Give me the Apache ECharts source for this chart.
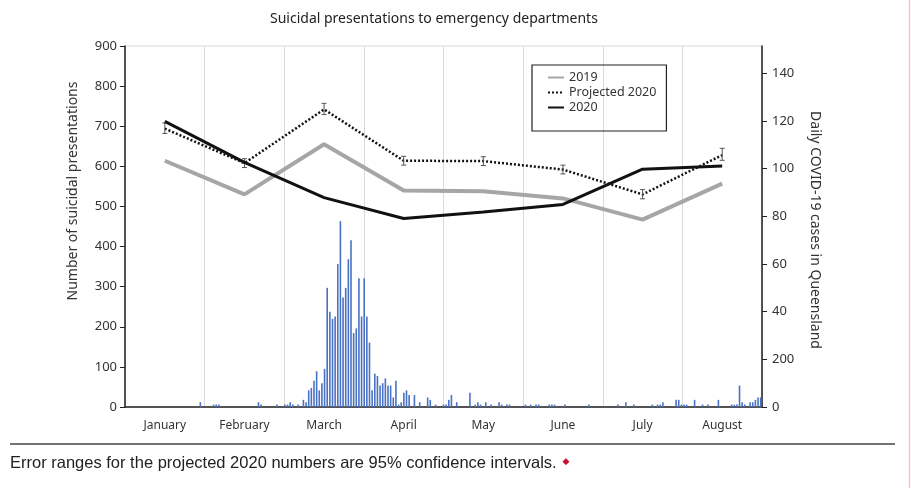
<!DOCTYPE html>
<html>
<head>
<meta charset="utf-8">
<title>Suicidal presentations to emergency departments</title>
<script src="https://cdn.jsdelivr.net/npm/echarts@6/dist/echarts.min.js"></script>
<style>
  html, body { margin: 0; padding: 0; background: #fff; }
  #chart { width: 911px; height: 488px; }
</style>
</head>
<body>
<div id="chart"></div>
<script>
// months on the category axis
var months = ['January', 'February', 'March', 'April', 'May', 'June', 'July', 'August'];

// suicidal presentations (left axis)
var data2019 = [614, 530, 655, 540, 538, 520, 467, 557];
var projected2020 = [694, 608, 742, 614, 613, 592, 530, 628];
var projLow = [682, 597, 729, 603, 602, 581, 519, 615];
var projHigh = [708, 619, 757, 625, 624, 603, 542, 645];
var data2020 = [712, 610, 522, 470, 486, 505, 593, 601];

// daily COVID-19 cases (right axis), day index from 1 Jan, only days with cases
var caseDay = [28, 33, 34, 35, 50, 51, 57, 60, 61, 62,
    63, 65, 67, 68, 69, 70, 71, 72, 73, 74,
    75, 76, 77, 78, 79, 80, 81, 82, 83, 84,
    85, 86, 87, 88, 89, 90, 91, 92, 93, 94,
    95, 96, 97, 98, 99, 100, 101, 102, 103, 104,
    105, 106, 107, 109, 111, 114, 115, 117, 120, 121,
    122, 123, 125, 130, 132, 133, 134, 136, 138, 141,
    142, 144, 145, 151, 153, 155, 156, 160, 161, 162,
    166, 175, 186, 189, 192, 199, 201, 202, 203, 208,
    209, 210, 211, 212, 215, 218, 220, 224, 229, 230,
    231, 232, 233, 234, 236, 237, 238, 239, 240];
var caseCount = [2, 1, 1, 1, 2, 1, 1, 1, 1, 2,
    1, 1, 3, 2, 7, 8, 11, 15, 7, 10,
    16, 50, 40, 37, 38, 60, 78, 46, 50, 62,
    70, 31, 33, 54, 38, 54, 38, 27, 7, 14,
    13, 9, 10, 12, 9, 9, 4, 11, 1, 2,
    6, 7, 5, 5, 2, 4, 3, 1, 1, 1,
    3, 5, 2, 6, 1, 2, 1, 2, 1, 2,
    1, 1, 1, 1, 1, 1, 1, 1, 1, 1,
    1, 1, 1, 2, 1, 1, 1, 1, 2, 3,
    3, 1, 1, 1, 3, 1, 1, 3, 1, 1,
    1, 9, 2, 1, 2, 2, 3, 4, 4];
var dayCount = 241;

// axis ticks
var rightTickValues = [0, 20, 40, 60, 80, 100, 120, 140];
var rightTickLabels = ['0', '200', '40', '60', '80', '100', '120', '140'];

/* daily table for the hidden day axis */
var days = [];
var dailyCases = [];
for (var d = 0; d < dayCount; d++) {
    days.push(d);
    dailyCases.push(0);
}
caseDay.forEach(function (day, i) {
    dailyCases[day] = caseCount[i];
});

var errorData = months.map(function (m, i) {
    return [i, projLow[i], projHigh[i]];
});

var font = "'Noto Sans', sans-serif";
var textColor = '#333';

var chart = echarts.init(document.getElementById('chart'));
var option = {
    backgroundColor: '#fff',
    animation: false,
    title: {
        text: 'Suicidal presentations to emergency departments',
        left: 265,
        top: 7,
        textStyle: { fontFamily: font, fontSize: 14, fontWeight: 'normal', color: '#222' }
    },
    legend: {
        data: ['2019', 'Projected 2020', '2020'],
        orient: 'vertical',
        left: 532,
        top: 65,
        padding: [6, 10, 17, 15],
        borderColor: '#222',
        borderWidth: 1.2,
        itemWidth: 16,
        itemHeight: 12,
        itemGap: 2,
        itemStyle: { opacity: 0 },
        textStyle: { fontFamily: font, fontSize: 12.5, color: textColor }
    },
    grid: { left: 125, right: 149, top: 46, bottom: 81, show: true, borderColor: '#d9d9d9', borderWidth: 1 },
    xAxis: [{
        type: 'category',
        data: months,
        boundaryGap: true,
        axisLine: { lineStyle: { color: '#222', width: 1.5 } },
        axisTick: { show: false },
        axisLabel: { fontFamily: font, fontSize: 12, color: textColor, margin: 13 },
        splitLine: { show: true, lineStyle: { color: '#d9d9d9', width: 1 } }
    }, {
        type: 'category',
        data: days,
        show: false,
        boundaryGap: true
    }],
    yAxis: [{
        type: 'value',
        min: 0,
        max: 900,
        interval: 100,
        position: 'left',
        axisLine: { show: true, lineStyle: { color: '#222', width: 1.5 } },
        axisTick: { show: true, length: 5, lineStyle: { color: '#222' } },
        axisLabel: { fontFamily: font, fontSize: 13, color: textColor, margin: 8 },
        splitLine: { show: false }
    }, {
        type: 'value',
        min: 0,
        max: 151.5,
        position: 'right',
        axisLine: { show: true, lineStyle: { color: '#222', width: 1.5 } },
        axisTick: { show: true, length: 5, customValues: rightTickValues, lineStyle: { color: '#222' } },
        axisLabel: {
            fontFamily: font, fontSize: 13, color: textColor, margin: 10,
            customValues: rightTickValues,
            formatter: function (v) {
                var i = rightTickValues.indexOf(v);
                return i < 0 ? '' : rightTickLabels[i];
            }
        },
        splitLine: { show: false }
    }],
    graphic: [
        {
            type: 'text', x: 73, y: 191, rotation: Math.PI / 2,
            style: { text: 'Number of suicidal presentations', font: '14px ' + font, fill: textColor, textAlign: 'center', textVerticalAlign: 'middle' }
        },
        {
            type: 'text', x: 815, y: 230, rotation: -Math.PI / 2,
            style: { text: 'Daily COVID-19 cases in Queensland', font: '14px ' + font, fill: textColor, textAlign: 'center', textVerticalAlign: 'middle' }
        },
        {
            type: 'line', shape: { x1: 10, y1: 444, x2: 895, y2: 444 },
            style: { stroke: '#444', lineWidth: 1.5 }
        },
        {
            type: 'text', x: 10, y: 463,
            style: { text: 'Error ranges for the projected 2020 numbers are 95% confidence intervals.', font: "16.5px 'Liberation Sans', sans-serif", fill: '#222', textVerticalAlign: 'middle' }
        },
        {
            type: 'text', x: 566, y: 462,
            style: { text: '◆', font: "9px 'DejaVu Sans', sans-serif", fill: '#c8102e', textAlign: 'center', textVerticalAlign: 'middle' }
        },
        {
            type: 'line', shape: { x1: 909.5, y1: 0, x2: 909.5, y2: 488 },
            style: { stroke: '#f3c4d3', lineWidth: 1.5 }
        }
    ],
    series: [
        {
            name: 'Daily cases',
            type: 'bar',
            xAxisIndex: 1,
            yAxisIndex: 1,
            data: dailyCases,
            barWidth: 1.6,
            itemStyle: { color: '#4a72c4' },
            z: 1
        },
        {
            name: '2019',
            type: 'line',
            data: data2019,
            symbol: 'none',
            lineStyle: { color: '#a6a6a6', width: 4 },
            itemStyle: { color: '#a6a6a6' },
            z: 3
        },
        {
            name: 'Projected 2020',
            type: 'line',
            data: projected2020,
            symbol: 'none',
            lineStyle: { color: '#111', width: 2.5, type: [2, 2] },
            itemStyle: { color: '#111' },
            z: 4
        },
        {
            name: 'Projected 2020 CI',
            type: 'custom',
            data: errorData,
            encode: { x: 0, y: [1, 2] },
            z: 5,
            renderItem: function (params, api) {
                var lo = api.coord([api.value(0), api.value(1)]);
                var hi = api.coord([api.value(0), api.value(2)]);
                var cap = 2.5;
                var st = { stroke: '#555', lineWidth: 1 };
                return {
                    type: 'group',
                    children: [
                        { type: 'line', shape: { x1: lo[0], y1: lo[1], x2: hi[0], y2: hi[1] }, style: st },
                        { type: 'line', shape: { x1: lo[0] - cap, y1: lo[1], x2: lo[0] + cap, y2: lo[1] }, style: st },
                        { type: 'line', shape: { x1: hi[0] - cap, y1: hi[1], x2: hi[0] + cap, y2: hi[1] }, style: st }
                    ]
                };
            }
        },
        {
            name: '2020',
            type: 'line',
            data: data2020,
            symbol: 'none',
            lineStyle: { color: '#111', width: 3 },
            itemStyle: { color: '#111' },
            z: 6
        }
    ]
};
chart.setOption(option);
</script>
</body>
</html>
